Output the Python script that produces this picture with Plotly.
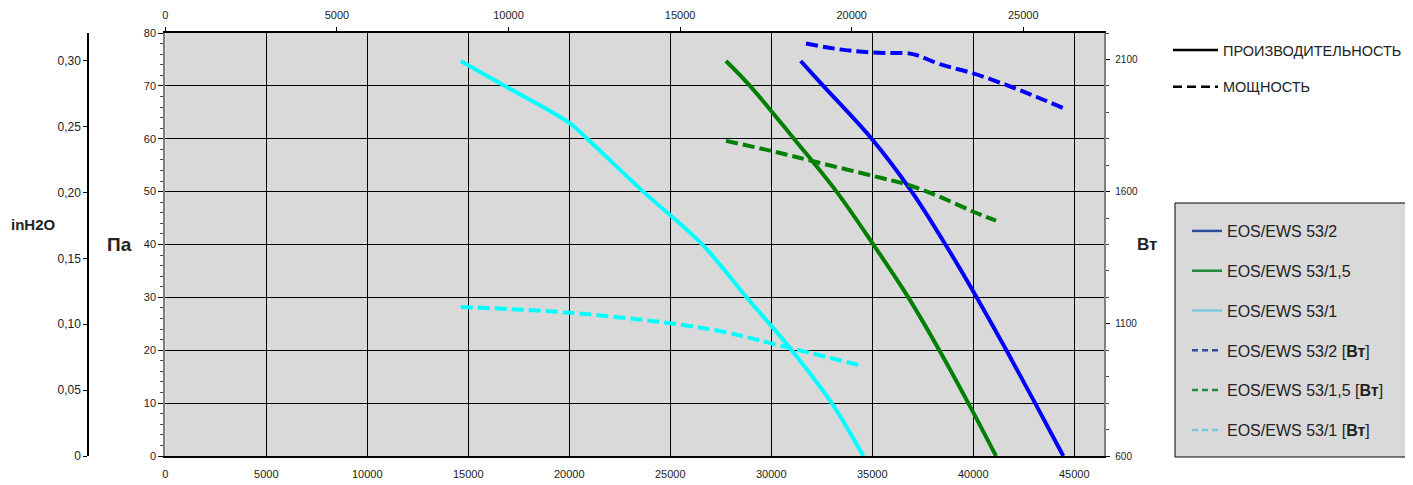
import plotly.graph_objects as go

# ---------------- data ----------------
# Performance curves: flow (m3/h) vs static pressure (Pa)
flow_532 = [31455, 32574, 34970, 36950, 38620, 40170, 41640, 43060, 44455]
pa_532 = [74.7, 70.0, 60.0, 50.0, 40.0, 30.0, 20.0, 10.0, 0.0]

flow_5315 = [27757, 28946, 31120, 33230, 35050, 36782, 38317, 39752, 41124]
pa_5315 = [74.7, 70.0, 60.0, 50.0, 40.0, 30.0, 20.0, 10.0, 0.0]

flow_531 = [14624, 16901, 20000, 20861, 23663, 26554, 28782, 31010, 32990, 34554]
pa_531 = [74.7, 69.8, 63.0, 60.1, 50.0, 40.1, 30.0, 20.0, 10.0, 0.0]

# Power curves: flow (m3/h) vs power (W)
pw_flow_532 = [31718, 33401, 35000, 36866, 37361, 38351, 40000, 41653, 43139, 44490]
pw_532 = [2160, 2138, 2126, 2122, 2112, 2082, 2047, 2003, 1958, 1915]

pw_flow_5315 = [27757, 30000, 32163, 35000, 36782, 38351, 40000, 41124]
pw_5315 = [1792, 1754, 1713, 1660, 1625, 1580, 1524, 1490]

pw_flow_531 = [14624, 20000, 25000, 27624, 30000, 34554]
pw_531 = [1164, 1142, 1102, 1070, 1026, 940]

# axes
x_ticks = [0, 5000, 10000, 15000, 20000, 25000, 30000, 35000, 40000, 45000]
cfm_ticks = [0, 5000, 10000, 15000, 20000, 25000]
pa_ticks = [0, 10, 20, 30, 40, 50, 60, 70, 80]
inh2o_ticks = [0, 0.05, 0.10, 0.15, 0.20, 0.25, 0.30]
inh2o_labels = ["0", "0,05", "0,10", "0,15", "0,20", "0,25", "0,30"]
w_ticks = [600, 1100, 1600, 2100]

series_names = ["EOS/EWS 53/2", "EOS/EWS 53/1,5", "EOS/EWS 53/1"]
power_names = ["EOS/EWS 53/2 [<b>Вт</b>]", "EOS/EWS 53/1,5 [<b>Вт</b>]", "EOS/EWS 53/1 [<b>Вт</b>]"]
legend_kind = ["ПРОИЗВОДИТЕЛЬНОСТЬ", "МОЩНОСТЬ"]

X_MAX = 46485
CFM_FACTOR = 1.699
PA_PER_INH2O = 249.089

curve_colors = ["#0000ff", "#008000", "#00ffff"]
legend_colors = ["#2e4d9c", "#1f8a3c", "#7cc7df"]

FONT = "Liberation Sans, Arial, sans-serif"

fig = go.Figure()

perf = [(flow_532, pa_532), (flow_5315, pa_5315), (flow_531, pa_531)]
power = [(pw_flow_532, pw_532), (pw_flow_5315, pw_5315), (pw_flow_531, pw_531)]

for (fx, fy), (px, py), col in zip(perf, power, curve_colors):
    fig.add_trace(go.Scatter(x=px, y=py, mode="lines", xaxis="x", yaxis="y3",
                             line=dict(color=col, width=4, dash="12px,5px", shape="spline", smoothing=1.0),
                             showlegend=False, hoverinfo="skip"))
    fig.add_trace(go.Scatter(x=fx, y=fy, mode="lines", xaxis="x", yaxis="y",
                             line=dict(color=col, width=4, shape="spline", smoothing=1.0),
                             showlegend=False, hoverinfo="skip"))

# helpers so secondary axes are drawn
fig.add_trace(go.Scatter(x=[None], y=[None], xaxis="x2", yaxis="y", showlegend=False, hoverinfo="skip"))
fig.add_trace(go.Scatter(x=[None], y=[None], xaxis="x", yaxis="y2", showlegend=False, hoverinfo="skip"))

# legend 1: line style key
for i, name in enumerate(legend_kind):
    fig.add_trace(go.Scatter(x=[None], y=[None], mode="lines", name=name, legend="legend",
                             legendgroup="k%d" % i,
                             line=dict(color="black", width=2.5, dash="solid" if i == 0 else "9px,5px")))

# legend 2: series
for i, name in enumerate(series_names):
    fig.add_trace(go.Scatter(x=[None], y=[None], mode="lines", name=name, legend="legend2",
                             legendgroup="s%d" % i, line=dict(color=legend_colors[i], width=2.5)))
for i, name in enumerate(power_names):
    fig.add_trace(go.Scatter(x=[None], y=[None], mode="lines", name=name, legend="legend2",
                             legendgroup="p%d" % i, line=dict(color=legend_colors[i], width=2.5, dash="6px,4px")))

tickfont = dict(family=FONT, size=11, color="#222")

W, H = 1413, 485
OFF = 8  # page body margin
L, R = 10, 10
T = 33 - OFF
B = H - (456 - OFF)
PW = W - L - R
PH = H - T - B


def fx_(page_x):
    return (page_x - OFF - L) / PW


def fy_(page_y):
    return (H - B - (page_y - OFF)) / PH


fig.update_layout(
    width=W, height=H, autosize=False,
    margin=dict(l=L, r=R, t=T, b=B, autoexpand=False),
    paper_bgcolor="white", plot_bgcolor="#d9d9d9",
    font=dict(family=FONT, color="#222"),
    xaxis=dict(domain=[fx_(165.3), fx_(1104.3)], range=[0, X_MAX], tickvals=x_ticks,
               ticktext=[str(v) for v in x_ticks],
               showgrid=True, gridcolor="black", gridwidth=1, zeroline=False,
               showline=True, linecolor="black", linewidth=1.5, ticks="",
               tickfont=tickfont, ticklabelstandoff=7),
    xaxis2=dict(overlaying="x", side="top", anchor="y", range=[0, X_MAX / CFM_FACTOR],
                tickvals=cfm_ticks, ticktext=[str(v) for v in cfm_ticks],
                showgrid=False, zeroline=False,
                showline=True, linecolor="black", linewidth=1.5,
                ticks="outside", ticklen=4, tickcolor="black",
                tickfont=tickfont, ticklabelstandoff=4),
    yaxis=dict(range=[0, 80], tickvals=pa_ticks, showgrid=True, gridcolor="black", gridwidth=1,
               zeroline=False, showline=True, linecolor="#7f7f7f", linewidth=2,
               ticks="outside", ticklen=5, tickcolor="black",
               minor=dict(dtick=2, ticks="outside", ticklen=3, tickcolor="#444", showgrid=False),
               tickfont=tickfont),
    yaxis2=dict(overlaying="y", anchor="free", position=fx_(88), side="left",
                range=[0, 80 / PA_PER_INH2O], tickvals=inh2o_ticks, ticktext=inh2o_labels,
                showgrid=False, zeroline=False, showline=True, linecolor="black", linewidth=1.5,
                ticks="outside", ticklen=4, tickcolor="black", tickfont=dict(family=FONT, size=12, color="#222")),
    yaxis3=dict(overlaying="y", anchor="x", side="right", range=[600, 2200], tickvals=w_ticks,
                ticktext=[str(v) for v in w_ticks],
                showgrid=False, zeroline=False, showline=True, linecolor="#7f7f7f", linewidth=2,
                ticks="outside", ticklen=4, tickcolor="black", ticklabelstandoff=3,
                minor=dict(dtick=100, ticks="outside", ticklen=3, tickcolor="#444", showgrid=False),
                tickfont=dict(family=FONT, size=10, color="#222")),
    legend=dict(x=fx_(1168), y=fy_(34), xanchor="left", yanchor="top",
                bgcolor="rgba(0,0,0,0)", borderwidth=0, itemwidth=45,
                font=dict(family=FONT, size=14.5, color="#222"), tracegroupgap=15,
                itemclick=False, itemdoubleclick=False),
    legend2=dict(x=fx_(1187), y=fy_(214), xanchor="left", yanchor="top",
                 bgcolor="rgba(0,0,0,0)", borderwidth=0, itemwidth=30,
                 font=dict(family=FONT, size=16, color="#222"), tracegroupgap=16,
                 itemclick=False, itemdoubleclick=False),
    shapes=[
        dict(type="rect", xref="paper", yref="paper",
             x0=fx_(1175), x1=fx_(1409), y0=fy_(457), y1=fy_(203),
             fillcolor="#d9d9d9", line=dict(color="black", width=1), layer="below"),
    ],
    annotations=[
        dict(text="<b>inH2O</b>", x=fx_(33), y=fy_(224), xref="paper", yref="paper",
             xanchor="center", yanchor="middle",
             showarrow=False, font=dict(family=FONT, size=15, color="#222")),
        dict(text="<b>Па</b>", x=fx_(119), y=fy_(244), xref="paper", yref="paper",
             xanchor="center", yanchor="middle",
             showarrow=False, font=dict(family=FONT, size=19, color="#222")),
        dict(text="<b>Вт</b>", x=fx_(1147), y=fy_(244), xref="paper", yref="paper",
             xanchor="center", yanchor="middle",
             showarrow=False, font=dict(family=FONT, size=17, color="#222")),
    ],
)

fig.write_html("out.html")
